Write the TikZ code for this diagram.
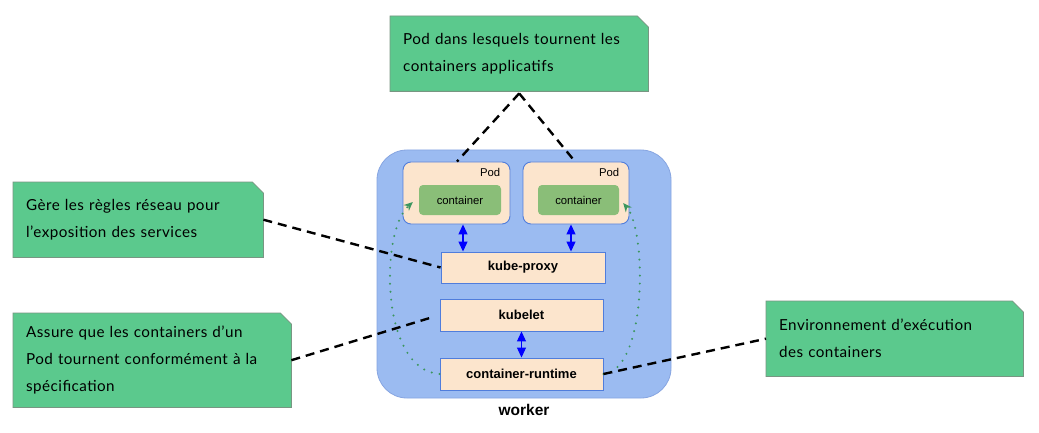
\documentclass[tikz,border=0pt]{standalone}
\usepackage{fontspec}
\setmainfont{Liberation Sans}
\newfontfamily\callfont[LetterSpace=3]{Lato}
\usetikzlibrary{arrows.meta,backgrounds,calc}
\definecolor{workerfill}{RGB}{155,187,241}
\definecolor{workerdraw}{RGB}{135,165,225}
\definecolor{podfill}{RGB}{252,229,205}
\definecolor{poddraw}{RGB}{80,125,220}
\definecolor{contfill}{RGB}{138,190,120}
\definecolor{callfill}{RGB}{91,201,141}
\definecolor{calldraw}{RGB}{120,150,130}
\definecolor{dotgreen}{RGB}{60,150,95}
\tikzset{
  workerbox/.style={draw=workerdraw, fill=workerfill, line width=0.8pt, rounded corners=30pt, inner sep=0pt},
  podbox/.style={draw=poddraw, fill=podfill, line width=0.9pt, rounded corners=8pt, inner sep=0pt},
  contbox/.style={fill=contfill, rounded corners=4pt, inner sep=0pt, font=\fontsize{11.3}{13}\selectfont},
  compbox/.style={draw=poddraw, fill=podfill, line width=0.9pt, inner sep=0pt, font=\bfseries\fontsize{13}{15}\selectfont},
  podlabel/.style={inner sep=0pt, font=\fontsize{11.3}{13}\selectfont},
  callout/.style={anchor=north west, inner xsep=13pt, inner ysep=0pt, align=left, font=\callfont\fontsize{15.2}{27}\selectfont},
  bluearrow/.style={blue, line width=1.1pt, {Stealth[length=10pt,width=9pt,inset=0pt]}-{Stealth[length=10pt,width=9pt,inset=0pt]}},
  dotarrow/.style={dotgreen, line width=2.2pt, line cap=round, dash pattern=on 0pt off 8pt, -{Stealth[length=9pt,width=8pt,line width=0pt]}},
  dashline/.style={black, line width=2.4pt, dash pattern=on 9pt off 6pt},
}
\newcommand\cutbox[1]{\path[fill=callfill, draw=calldraw, line width=0.8pt] (#1.south west) -- (#1.north west) -- ([xshift=-11pt]#1.north east) -- ([yshift=-11pt]#1.north east) -- (#1.south east) -- cycle;}
\begin{document}
\begin{tikzpicture}[x=1pt,y=-1pt]
\useasboundingbox (0,0) rectangle (1039,433);
% worker
\node[workerbox, minimum width=294pt, minimum height=248pt] (worker) at (524,274) {};
\node[inner sep=0pt, font=\bfseries\fontsize{15.5}{17}\selectfont] (wlabel) at (524,410) {worker};
% pods
\node[podbox, minimum width=107pt, minimum height=62pt] (pod1) at (456.5,193) {};
\node[podbox, minimum width=106pt, minimum height=62pt] (pod2) at (576,193) {};
\node[podlabel, anchor=east] (pl1) at ([xshift=-10pt,yshift=-11pt]pod1.north east) {Pod};
\node[podlabel, anchor=east] (pl2) at ([xshift=-10pt,yshift=-11pt]pod2.north east) {Pod};
\node[contbox, minimum width=82pt, minimum height=30pt] (c1) at (460,200) {container};
\node[contbox, minimum width=81pt, minimum height=30pt] (c2) at (578.5,200) {container};
% components
\node[compbox, minimum width=164pt, minimum height=31pt] (kproxy) at (523,267.5) {kube-proxy};
\node[compbox, minimum width=163pt, minimum height=32pt] (kubelet) at (521.5,315) {kubelet};
\node[compbox, minimum width=163pt, minimum height=32pt] (runtime) at (521.5,374) {container-runtime};
% blue arrows
\draw[bluearrow] ([xshift=6.5pt]pod1.south) -- ([xshift=6.5pt]pod1.south |- kproxy.north);
\draw[bluearrow] ([xshift=-5pt]pod2.south) -- ([xshift=-5pt]pod2.south |- kproxy.north);
\draw[bluearrow] (kubelet.south) -- (runtime.north);
% dotted green arcs
\draw[dotarrow] (runtime.west) .. controls (380,370) and (380,232) .. ([xshift=-6pt,yshift=-2pt]c1.west);
\draw[dotarrow] (runtime.east) .. controls (647,370) and (647,232) .. ([xshift=4pt,yshift=-3pt]c2.east);
% callouts
\node[callout, text width=232pt, minimum height=75pt] (ctop) at (390,16) {Pod dans lesquels tournent les\\containers applicatifs};
\node[callout, text width=224pt, minimum height=75pt] (cleft1) at (13,182) {Gère les règles réseau pour\\l’exposition des services};
\node[callout, text width=252pt, minimum height=94pt] (cleft2) at (13,313) {Assure que les containers d’un\\Pod tournent conformément à la\\spécification};
\node[callout, text width=231pt, minimum height=75pt] (cright) at (766,301) {Environnement d’exécution\\des containers};
\begin{scope}[on background layer]
\fill[white] (0,0) rectangle (1039,433);
\cutbox{ctop}
\cutbox{cleft1}
\cutbox{cleft2}
\cutbox{cright}
\end{scope}
% dashed connectors
\coordinate (topjoin) at ([yshift=-2pt]ctop.south);
\draw[dashline] (topjoin) -- ([xshift=0.5pt]pod1.north);
\draw[dashline] (topjoin) -- ([xshift=-1pt]pod2.north);
\draw[dashline] (cleft1.east) -- (kproxy.west);
\draw[dashline, shorten >=10pt] (cleft2.east) -- (kubelet.west);
\draw[dashline] (runtime.east) -- (cright.west);
\end{tikzpicture}
\end{document}
